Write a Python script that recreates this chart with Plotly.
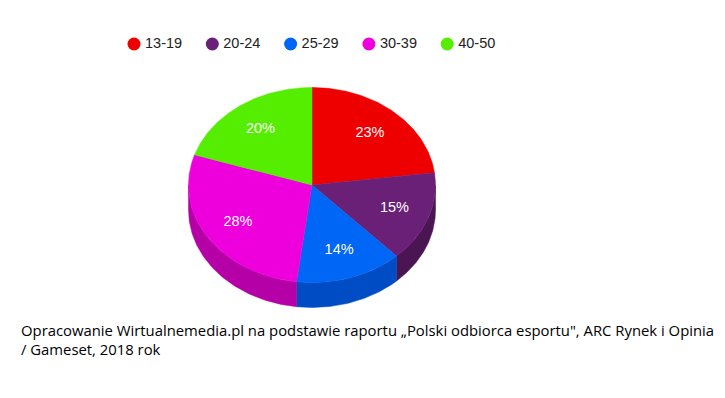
import numpy as np
import plotly.graph_objects as go

# ---- data ----
categories = ["13-19", "20-24", "25-29", "30-39", "40-50"]
values = [23, 15, 14, 28, 20]
top_colors = ["#ee0000", "#6b2077", "#0066f5", "#ee00dd", "#55ee00"]
side_colors = ["#a80000", "#4b1554", "#004cc4", "#b400a6", "#3fb000"]
source_text = ("Opracowanie Wirtualnemedia.pl na podstawie raportu \u201ePolski odbiorca esportu\", "
               "ARC Rynek i Opinia<br>/ Gameset, 2018 rok")

# ---- geometry (page pixel space; page body has 8px margin) ----
W, H = 725, 398
OFF = 8
cx, cy, rx, ry, depth = 312, 185, 123.5, 97.5, 25
label_r = 0.71

def ell(theta_deg, dy=0.0):
    t = np.radians(theta_deg)
    return cx + rx * np.sin(t), cy - ry * np.cos(t) + dy

fig = go.Figure()

total = float(sum(values))
angles = [0.0]
for v in values:
    angles.append(angles[-1] + 360.0 * v / total)

# side walls (front half: 90..270 degrees clockwise from top)
for i, v in enumerate(values):
    a0, a1 = angles[i], angles[i + 1]
    s0, s1 = max(a0, 90.0), min(a1, 270.0)
    if s1 <= s0:
        continue
    th = np.linspace(s0, s1, 80)
    xt, yt = ell(th)
    xb, yb = ell(th[::-1], depth)
    xs = np.concatenate([xt, xb, xt[:1]])
    ys = np.concatenate([yt, yb, yt[:1]])
    fig.add_trace(go.Scatter(x=xs, y=ys, fill="toself", mode="lines",
                             line=dict(color=side_colors[i], width=0.5),
                             fillcolor=side_colors[i], hoverinfo="skip",
                             showlegend=False))

# top faces
for i, v in enumerate(values):
    a0, a1 = angles[i], angles[i + 1]
    th = np.linspace(a0, a1, 120)
    xt, yt = ell(th)
    xs = np.concatenate([[cx], xt, [cx]])
    ys = np.concatenate([[cy], yt, [cy]])
    fig.add_trace(go.Scatter(x=xs, y=ys, fill="toself", mode="lines",
                             line=dict(color=top_colors[i], width=0.5),
                             fillcolor=top_colors[i], hoverinfo="text",
                             text=f"{categories[i]}: {v}%", showlegend=False))

# slice labels
lx, ly, lt = [], [], []
for i, v in enumerate(values):
    mid = np.radians((angles[i] + angles[i + 1]) / 2)
    lx.append(cx + label_r * rx * np.sin(mid))
    ly.append(cy - label_r * ry * np.cos(mid))
    lt.append(f"{v}%")
fig.add_trace(go.Scatter(x=lx, y=ly, text=lt, mode="text",
                         textfont=dict(family="Arial, Liberation Sans", size=14.5, color="white"),
                         hoverinfo="skip", showlegend=False))

# legend (markers + text)
leg_x0, leg_dx, leg_y = 134, 78.3, 44
legx = [leg_x0 + i * leg_dx for i in range(len(categories))]
fig.add_trace(go.Scatter(x=legx, y=[leg_y] * len(categories), mode="markers",
                         marker=dict(size=13, color=top_colors),
                         hoverinfo="skip", showlegend=False))
fig.add_trace(go.Scatter(x=[x + 11 for x in legx], y=[leg_y] * len(categories),
                         text=categories, mode="text", textposition="middle right",
                         textfont=dict(family="Arial, Liberation Sans", size=14.5, color="#222222"),
                         hoverinfo="skip", showlegend=False))

fig.add_annotation(x=19, y=339, xref="x", yref="y", text=source_text, showarrow=False,
                   xanchor="left", yanchor="middle", align="left",
                   font=dict(family="Open Sans", size=14.85, color="#000000"))

fig.update_layout(
    width=W, height=H, margin=dict(l=0, r=0, t=0, b=0),
    paper_bgcolor="white", plot_bgcolor="white",
    xaxis=dict(range=[OFF, W + OFF], visible=False, fixedrange=True),
    yaxis=dict(range=[H + OFF, OFF], visible=False, fixedrange=True),
    showlegend=False,
)

fig.write_html("out.html")
